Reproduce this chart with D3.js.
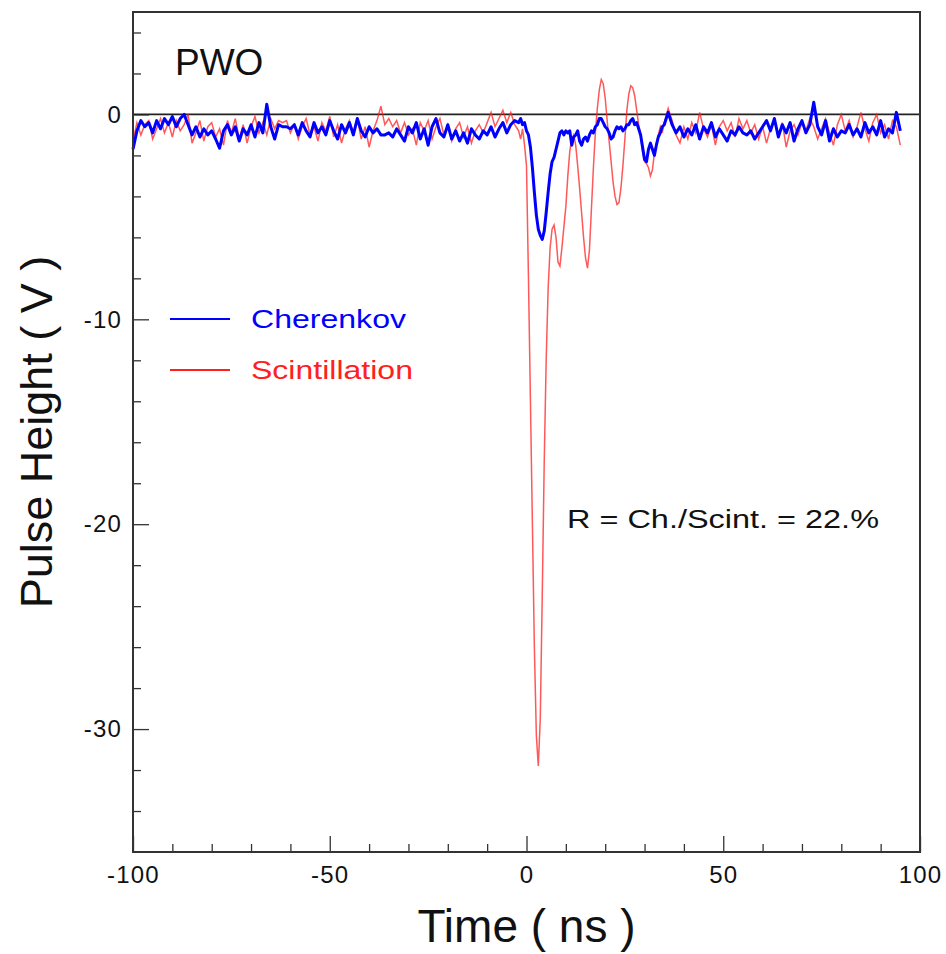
<!DOCTYPE html>
<html>
<head>
<meta charset="utf-8">
<script src="https://cdn.jsdelivr.net/npm/d3@7"></script>
<style>
    body { margin: 0; background: #fff; }
    svg text { font-family: "Liberation Sans", Arial, Helvetica, sans-serif; fill: #111; }
</style>
</head>
<body>
<script>
// sample times (ns): 1 ns steps on the baseline, 0.5 ns steps through the pulse
var earlyTimes = d3.range(-100, -2, 1);
var pulseTimes = d3.range(-2, 35.25, 0.5);
var lateTimes = d3.range(36, 95.5, 1);

// Cherenkov (blue) pulse height in V
var cherenkovEarly = [
    -1.7, -0.8, -0.3, -0.6, -0.4, -0.9, -0.3, -0.7, -0.2, -0.5,
    -0.1, -0.6, -0.2, 0.0, -0.5, -1.0, -0.6, -1.1, -0.7, -1.0,
    -0.8, -1.2, -1.65, -0.8, -0.5, -1.0, -0.6, -1.3, -0.7, -1.0,
    -0.5, -1.1, -0.4, -0.9, 0.5, -0.6, -1.2, -0.5, -0.6, -0.6,
    -0.7, -0.5, -1.0, -0.4, -0.8, -1.1, -0.4, -0.9, -0.6, -1.0,
    -0.3, -0.8, -1.2, -0.5, -0.9, -0.4, -1.0, -0.2, -0.8, -1.1,
    -0.6, -0.9, -0.7, -1.0, -1.0, -0.9, -1.1, -0.7, -1.0, -1.3,
    -0.6, -0.9, -0.4, -1.2, -0.7, -1.5, -0.6, -0.2, -0.9, -1.1,
    -0.5, -1.2, -0.8, -1.3, -0.9, -1.4, -0.7, -1.0, -1.2, -0.8,
    -1.0, -0.6, -1.1, -0.7, -0.4, -0.9, -0.5, -0.3
];
var cherenkovPulse = [
    -0.4, -0.2, -0.5, -0.4, -0.8, -1.0, -1.6, -2.6, -3.8, -4.9,
    -5.6, -5.9, -6.1, -5.7, -4.8, -3.8, -2.9, -2.3, -2.1, -1.7,
    -1.3, -0.9, -0.8, -1.0, -0.8, -0.9, -0.8, -1.5, -1.1, -1.0,
    -0.8, -1.3, -1.5, -1.2, -1.1, -1.3, -1.0, -0.8, -0.9, -0.6,
    -0.5, -0.2, -0.2, -0.4, -0.6, -0.7, -0.9, -1.2, -1.1, -0.8,
    -0.6, -0.7, -0.6, -0.8, -0.7, -0.5, -0.5, -0.3, -0.2, -0.5,
    -0.4, -0.7, -1.0, -1.6, -2.2, -2.3, -1.7, -1.4, -1.7, -2.0,
    -1.5, -1.1, -0.9, -0.6, -0.5
];
var cherenkovLate = [
    0.1, -0.5, -0.9, -0.6, -1.1, -0.7, -1.0, -0.5, -1.2, -0.6,
    -0.9, -0.4, -1.1, -0.7, -1.0, -1.3, -0.8, -1.0, -0.6, -0.9,
    -1.0, -0.8, -1.2, -0.9, -0.6, -0.3, -0.8, -0.2, -1.1, -0.5,
    -0.9, -0.4, -1.3, -0.7, -0.3, -0.9, -0.5, 0.6, -0.6, -1.0,
    -0.3, -1.3, -0.7, -1.1, -0.8, -0.9, -0.5, -1.0, -0.7, -1.1,
    -0.4, -0.9, -0.6, -1.0, -0.3, -1.1, -0.7, -0.9, 0.1, -0.8
];

// Scintillation (red) pulse height in V
var scintEarly = [
    -1.3, -0.4, -1.0, -0.5, -0.3, -1.2, -0.7, -0.2, -0.9, -0.4,
    -1.1, -0.3, -0.8, -0.5, 0.0, -1.4, -0.9, -0.3, -1.3, -0.6,
    -0.4, -1.1, -0.7, -1.5, -0.3, -0.9, -0.2, -1.2, -0.5, -1.4,
    -0.6, -0.1, -0.9, -0.4, -1.0, -0.2, -0.7, -0.3, -0.4, -0.3,
    -0.9, -0.5, -1.2, -0.6, -0.2, -1.0, -0.6, -1.3, -0.4, -0.8,
    -0.1, -1.1, -0.5, -1.4, -0.7, -0.3, -0.9, -0.2, -1.2, -0.6,
    -1.6, -0.8, -0.3, 0.4, -0.5, -0.2, -0.6, -0.3, -0.9, -0.4,
    -1.0, -0.7, -1.5, -0.4, -0.8, -0.3, -1.2, -0.6, -0.2, -1.0,
    -0.5, -1.3, -0.7, -0.4, -1.1, -0.6, -1.4, -0.8, -0.5, -0.9,
    -0.4, 0.1, -0.6, -0.2, 0.2, -0.4, 0.1, -0.5
];
var scintPulse = [
    -0.8, -1.2, -0.7, -1.5, -2.5, -8.0, -14.0, -20.0, -26.0, -30.3,
    -31.8, -29.5, -23.5, -17.0, -12.0, -8.5, -6.5, -5.6, -5.4, -6.0,
    -7.2, -7.4, -6.5, -5.5, -4.5, -3.0, -1.8, -1.2, -1.0, -1.5,
    -2.5, -3.6, -4.8, -6.0, -7.0, -7.5, -6.6, -4.6, -2.6, -0.9,
    0.3, 1.2, 1.7, 1.5, 0.8, -0.3, -1.3, -2.3, -3.3, -4.0,
    -4.4, -4.3, -3.6, -2.5, -1.2, 0.2, 1.0, 1.4, 1.3, 0.9,
    0.2, -0.5, -1.0, -1.8, -2.3, -2.4, -2.6, -3.0, -2.7, -1.9,
    -1.4, -1.0, -0.6, -0.9, -0.4
];
var scintLate = [
    0.3, -0.3, -1.0, -1.4, -0.6, -1.2, -0.4, -0.9, 0.1, -0.7,
    -1.1, -0.5, -1.5, -0.6, -0.3, -0.8, -0.4, -1.1, -0.2, -0.7,
    -0.3, -0.9, -0.5, -1.2, -0.6, -1.4, -0.7, -0.3, -1.1, -0.4,
    -1.6, -0.8, -0.5, -1.0, -0.4, -0.8, -0.2, -0.6, -1.2, -0.7,
    -0.2, -0.9, -1.5, -0.5, 0.0, -0.8, -0.3, -1.1, -0.6, 0.1,
    -0.7, -1.3, -0.4, 0.0, -0.9, -0.5, -1.2, -0.3, -0.6, -1.5
];

// axis ticks
var xMajorTicks = [-100, -50, 0, 50, 100];
var yMajorTicks = [0, -10, -20, -30];

// build the two traces
var timeNs = earlyTimes.concat(pulseTimes, lateTimes);
var cherenkov = cherenkovEarly.concat(cherenkovPulse, cherenkovLate);
var scint = scintEarly.concat(scintPulse, scintLate);

var cherenkovData = timeNs.map(function(t, i) { return [t, cherenkov[i]]; });
var scintData = timeNs.map(function(t, i) { return [t, scint[i]]; });

// frame
var margin = {top: 12, right: 26, bottom: 102, left: 133},
    width = 946 - margin.left - margin.right,
    height = 954 - margin.top - margin.bottom;

var svg = d3.select("body")
            .append("svg")
            .attr("width", 946)
            .attr("height", 954);

var g = svg.append("g")
           .attr("transform", "translate(" + margin.left + "," + margin.top + ")");

// scales
var xScale = d3.scaleLinear()
               .domain([-100, 100])
               .range([0, width]);

var yScale = d3.scaleLinear()
               .domain([-36, 5])
               .range([height, 0]);

// plain hyphen labels like the original
var plainLabel = function(d) { return String(d); };

// minor ticks (no labels)
g.append("g")
  .attr("class", "xminor")
  .attr("transform", "translate(0," + height + ")")
  .call(d3.axisBottom(xScale)
          .tickValues(d3.range(-90, 100, 10).filter(function(d) { return d % 50 !== 0; }))
          .tickSize(-8)
          .tickFormat(""));

g.append("g")
  .attr("class", "yminor")
  .call(d3.axisLeft(yScale)
          .tickValues(d3.range(-34, 5, 2).filter(function(d) { return d % 10 !== 0; }))
          .tickSize(-8)
          .tickFormat(""));

// major ticks with labels
g.append("g")
  .attr("class", "xaxis")
  .attr("transform", "translate(0," + height + ")")
  .call(d3.axisBottom(xScale)
          .tickValues(xMajorTicks)
          .tickSize(-16)
          .tickPadding(14)
          .tickFormat(plainLabel));

g.append("g")
  .attr("class", "yaxis")
  .call(d3.axisLeft(yScale)
          .tickValues(yMajorTicks)
          .tickSize(-16)
          .tickPadding(11)
          .tickFormat(plainLabel));

g.selectAll(".domain").remove();
g.selectAll(".tick line").attr("stroke", "#333").attr("stroke-width", 1.3);
g.selectAll(".xaxis .tick text, .yaxis .tick text")
  .attr("font-size", 24)
  .attr("letter-spacing", 1.2)
  .attr("fill", "#111");
g.selectAll(".xaxis .tick text").attr("dy", "0.71em");

// zero line
g.append("line")
  .attr("x1", 0)
  .attr("x2", width)
  .attr("y1", yScale(0))
  .attr("y2", yScale(0))
  .attr("stroke", "#222")
  .attr("stroke-width", 1.8);

// traces
var line = d3.line()
             .x(function(d) { return xScale(d[0]); })
             .y(function(d) { return yScale(d[1]); });

g.append("path")
  .datum(scintData)
  .attr("d", line)
  .attr("fill", "none")
  .attr("stroke", "#ff2020")
  .attr("stroke-opacity", 0.75)
  .attr("stroke-width", 1.5);

g.append("path")
  .datum(cherenkovData)
  .attr("d", line)
  .attr("fill", "none")
  .attr("stroke", "#0000ff")
  .attr("stroke-width", 3)
  .attr("stroke-linejoin", "round");

// frame box
g.append("rect")
  .attr("width", width)
  .attr("height", height)
  .attr("fill", "none")
  .attr("stroke", "#333")
  .attr("stroke-width", 2);

// label in the corner
g.append("text")
  .attr("x", 42)
  .attr("y", 63)
  .attr("font-size", 37)
  .text("PWO");

// legend
var legendItems = [
    {name: "Cherenkov", color: "#0000ff", len: 155},
    {name: "Scintillation", color: "#ff2020", len: 162}
];

var legend = g.selectAll(".legend")
              .data(legendItems)
              .enter()
              .append("g")
              .attr("class", "legend")
              .attr("transform", function(d, i) { return "translate(37," + (307 + i * 51) + ")"; });

legend.append("line")
  .attr("x1", 0)
  .attr("x2", 60)
  .attr("stroke", function(d) { return d.color; })
  .attr("stroke-width", 2);

legend.append("text")
  .attr("x", 81)
  .attr("y", 9)
  .attr("font-size", 26)
  .attr("textLength", function(d) { return d.len; })
  .attr("lengthAdjust", "spacingAndGlyphs")
  .style("fill", function(d) { return d.color; })
  .text(function(d) { return d.name; });

// ratio annotation
g.append("text")
  .attr("x", 434)
  .attr("y", 516)
  .attr("font-size", 25)
  .attr("textLength", 312)
  .attr("lengthAdjust", "spacingAndGlyphs")
  .text("R = Ch./Scint. = 22.%");

// axis titles
svg.append("text")
  .attr("x", margin.left + xScale(0))
  .attr("y", 942)
  .attr("text-anchor", "middle")
  .attr("font-size", 46)
  .text("Time ( ns )");

svg.append("text")
  .attr("transform", "translate(52,432) rotate(-90)")
  .attr("text-anchor", "middle")
  .attr("font-size", 45)
  .text("Pulse Height ( V )");
</script>
</body>
</html>
